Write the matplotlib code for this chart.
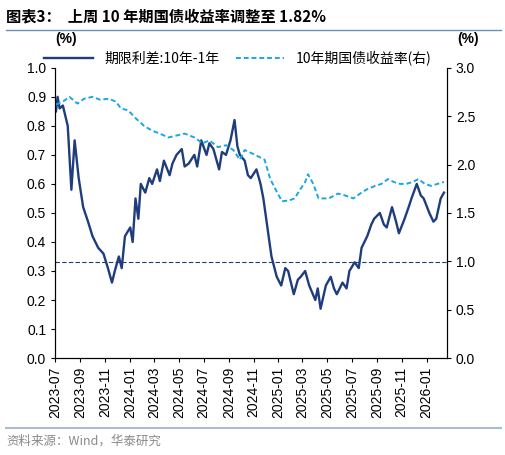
import matplotlib
matplotlib.use("Agg")
import matplotlib.pyplot as plt
import pandas as pd
import numpy as np

plt.rcParams['font.family'] = ['Liberation Sans', 'Noto Sans CJK SC', 'DejaVu Sans']

spread_dates = ["2023-07-03","2023-07-07","2023-07-12","2023-07-20","2023-08-01","2023-08-10","2023-08-18","2023-08-28","2023-09-08","2023-09-20","2023-10-01","2023-10-15","2023-10-28","2023-11-08","2023-11-18","2023-11-25","2023-12-05","2023-12-12","2023-12-20","2024-01-02","2024-01-08","2024-01-15","2024-01-22","2024-01-28","2024-02-08","2024-02-18","2024-02-25","2024-03-08","2024-03-15","2024-03-25","2024-04-08","2024-04-15","2024-04-25","2024-05-08","2024-05-15","2024-05-25","2024-06-08","2024-06-15","2024-06-25","2024-07-08","2024-07-15","2024-07-25","2024-08-08","2024-08-15","2024-08-25","2024-09-05","2024-09-15","2024-09-22","2024-09-28","2024-10-10","2024-10-18","2024-10-25","2024-11-08","2024-11-18","2024-11-25","2024-12-05","2024-12-15","2024-12-28","2025-01-08","2025-01-18","2025-01-25","2025-02-08","2025-02-18","2025-02-25","2025-03-08","2025-03-18","2025-04-02","2025-04-08","2025-04-15","2025-04-28","2025-05-10","2025-05-18","2025-05-25","2025-06-08","2025-06-18","2025-06-25","2025-07-08","2025-07-18","2025-07-25","2025-08-08","2025-08-18","2025-08-25","2025-09-08","2025-09-18","2025-09-25","2025-10-08","2025-10-18","2025-10-25","2025-11-08","2025-11-18","2025-11-25","2025-12-08","2025-12-18","2025-12-25","2026-01-08","2026-01-18","2026-01-25","2026-02-05","2026-02-13"]
spread = [0.85,0.90,0.86,0.87,0.80,0.58,0.75,0.62,0.52,0.47,0.42,0.38,0.36,0.31,0.26,0.30,0.35,0.31,0.42,0.45,0.40,0.55,0.48,0.60,0.57,0.62,0.60,0.65,0.61,0.68,0.63,0.67,0.70,0.72,0.66,0.67,0.70,0.66,0.75,0.70,0.74,0.72,0.65,0.71,0.70,0.75,0.82,0.73,0.70,0.68,0.63,0.62,0.65,0.60,0.55,0.45,0.35,0.28,0.25,0.31,0.30,0.22,0.27,0.28,0.30,0.25,0.20,0.24,0.17,0.25,0.28,0.24,0.22,0.26,0.24,0.30,0.33,0.31,0.38,0.42,0.46,0.48,0.50,0.46,0.45,0.52,0.47,0.43,0.48,0.52,0.55,0.60,0.56,0.55,0.50,0.47,0.48,0.55,0.57]

yield_dates = ["2023-07-03","2023-07-20","2023-08-05","2023-08-25","2023-09-10","2023-10-01","2023-10-20","2023-11-10","2023-11-28","2023-12-10","2023-12-28","2024-01-15","2024-02-05","2024-02-25","2024-03-15","2024-04-05","2024-04-25","2024-05-15","2024-06-08","2024-06-28","2024-07-15","2024-08-05","2024-08-25","2024-09-12","2024-09-28","2024-10-10","2024-11-05","2024-11-28","2024-12-12","2024-12-28","2025-01-10","2025-01-28","2025-02-10","2025-02-25","2025-03-08","2025-03-15","2025-03-28","2025-04-10","2025-05-05","2025-05-28","2025-06-15","2025-07-05","2025-07-28","2025-08-10","2025-08-28","2025-09-12","2025-09-28","2025-10-12","2025-10-28","2025-11-12","2025-11-28","2025-12-12","2025-12-28","2026-01-12","2026-01-28","2026-02-13"]
yld = [2.62,2.65,2.70,2.63,2.68,2.70,2.67,2.68,2.65,2.58,2.56,2.48,2.40,2.35,2.32,2.28,2.30,2.32,2.28,2.22,2.25,2.18,2.20,2.15,2.05,2.15,2.10,2.05,1.85,1.72,1.62,1.63,1.65,1.75,1.82,1.90,1.80,1.65,1.65,1.70,1.68,1.65,1.72,1.75,1.78,1.80,1.85,1.82,1.80,1.80,1.82,1.85,1.80,1.78,1.80,1.82]

ref_level = 0.33
xticks = ["2023-07","2023-09","2023-11","2024-01","2024-03","2024-05","2024-07","2024-09","2024-11","2025-01","2025-03","2025-05","2025-07","2025-09","2025-11","2026-01"]

navy = "#1F3D7C"
light = "#1AA7E2"

fig = plt.figure(figsize=(5.06, 4.55), dpi=100)
ax = fig.add_axes([0.109, 0.213, 0.774, 0.638])
ax2 = ax.twinx()

l1, = ax.plot(pd.to_datetime(spread_dates), spread, color=navy, lw=1.7, label="期限利差:10年-1年")
l2, = ax2.plot(pd.to_datetime(yield_dates), yld, color=light, lw=1.4, ls=(0, (2.5, 1.5)), label="10年期国债收益率(右)")
ax.axhline(ref_level, color=navy, lw=0.8, ls=(0, (4, 2)))

ax.set_ylim(0, 1.0)
ax.set_yticks(np.arange(0, 1.01, 0.1))
ax.set_yticklabels([f"{v:.1f}" for v in np.arange(0, 1.01, 0.1)])
ax2.set_ylim(0, 3.0)
ax2.set_yticks(np.arange(0, 3.01, 0.5))
ax2.set_yticklabels([f"{v:.1f}" for v in np.arange(0, 3.01, 0.5)])
ax.set_xlim(pd.Timestamp("2023-07-01"), pd.Timestamp("2026-02-20"))
ax.set_xticks(pd.to_datetime(xticks))
ax.set_xticklabels(xticks, rotation=90)
for a in (ax, ax2):
    a.tick_params(labelsize=10, length=3, width=0.8)
    a.spines["top"].set_visible(False)

fig.text(0.13, 0.905, "(%)", ha="center", fontsize=10, fontweight="bold")
fig.text(0.925, 0.905, "(%)", ha="center", fontsize=10, fontweight="bold")
fig.legend(handles=[l1, l2], loc="center", bbox_to_anchor=(0.47, 0.872), ncol=2, frameon=False,
           handlelength=3.5, columnspacing=1.2, prop={'family': ['Noto Sans CJK SC'], 'size': 10})

fig.text(0.012, 0.965, "图表3：  上周 10 年期国债收益率调整至 1.82%", fontsize=11, fontweight="bold",
         va="center", family=['Noto Sans CJK SC'])
fig.add_artist(plt.Line2D([0.012, 0.99], [0.935, 0.935], color="#6A8FBF", lw=1))
fig.add_artist(plt.Line2D([0.012, 0.99], [0.06, 0.06], color="#A8BBD3", lw=1.5))
fig.text(0.012, 0.03, "资料来源：Wind，华泰研究", fontsize=9, color="#8A8A8A", va="center", family=['Noto Sans CJK SC'])

fig.savefig("out.png", dpi=100)
